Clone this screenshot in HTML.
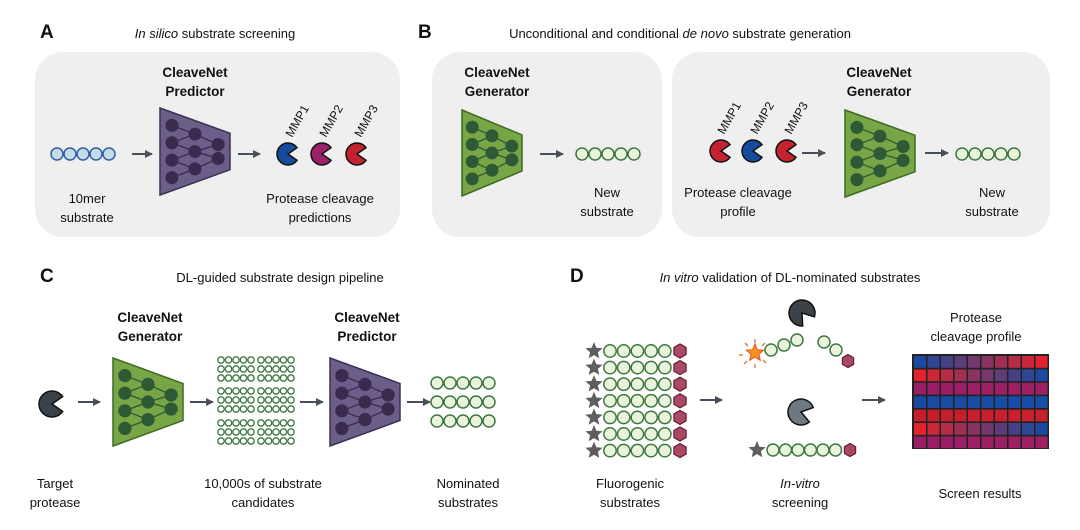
<!DOCTYPE html>
<html><head><meta charset="utf-8">
<style>
body{margin:0;background:#fff;}
svg{display:block;font-family:"Liberation Sans",Arial,sans-serif;}
</style></head>
<body>
<svg id="s" width="1080" height="530" viewBox="0 0 1080 530" xmlns="http://www.w3.org/2000/svg">
<defs>
<marker id="ar" markerWidth="8" markerHeight="8" refX="7" refY="4" orient="auto" markerUnits="userSpaceOnUse"><path d="M0,0 L8,4 L0,8 Z" fill="#4a5058"/></marker>
</defs>
<rect x="35" y="52" width="365" height="185" rx="28" fill="#efefef"/>
<rect x="432" y="52" width="230" height="185" rx="28" fill="#efefef"/>
<rect x="672" y="52" width="378" height="185" rx="28" fill="#efefef"/>
<g font-size="13" fill="#111" text-anchor="middle">
<text x="40" y="38" font-size="19" font-weight="bold" text-anchor="start">A</text>
<text x="215" y="38"><tspan font-style="italic">In silico</tspan> substrate screening</text>
<text x="418" y="38" font-size="19" font-weight="bold" text-anchor="start">B</text>
<text x="680" y="38">Unconditional and conditional <tspan font-style="italic">de novo</tspan> substrate generation</text>
<text x="40" y="282" font-size="19" font-weight="bold" text-anchor="start">C</text>
<text x="280" y="282">DL-guided substrate design pipeline</text>
<text x="570" y="282" font-size="19" font-weight="bold" text-anchor="start">D</text>
<text x="790" y="282"><tspan font-style="italic">In vitro</tspan> validation of DL-nominated substrates</text>

<g font-weight="bold" font-size="13.5">
<text x="195" y="77">CleaveNet</text><text x="195" y="96">Predictor</text>
<text x="497" y="77">CleaveNet</text><text x="497" y="96">Generator</text>
<text x="879" y="77">CleaveNet</text><text x="879" y="96">Generator</text>
<text x="150" y="322">CleaveNet</text><text x="150" y="341">Generator</text>
<text x="367" y="322">CleaveNet</text><text x="367" y="341">Predictor</text>
</g>
<text x="87" y="203">10mer</text><text x="87" y="222">substrate</text>
<text x="320" y="203">Protease cleavage</text><text x="320" y="222">predictions</text>
<text x="607" y="197">New</text><text x="607" y="216">substrate</text>
<text x="738" y="197">Protease cleavage</text><text x="738" y="216">profile</text>
<text x="992" y="197">New</text><text x="992" y="216">substrate</text>
<text x="55" y="488">Target</text><text x="55" y="507">protease</text>
<text x="263" y="488">10,000s of substrate</text><text x="263" y="507">candidates</text>
<text x="468" y="488">Nominated</text><text x="468" y="507">substrates</text>
<text x="630" y="488">Fluorogenic</text><text x="630" y="507">substrates</text>
<text x="800" y="488" font-style="italic">In-vitro</text><text x="800" y="507">screening</text>
<text x="976" y="322">Protease</text><text x="976" y="341">cleavage profile</text>
<text x="980" y="498">Screen results</text>
</g>
<g id="dyn"></g>
</svg>
<script>
const g=document.getElementById('dyn');const NS='http://www.w3.org/2000/svg';
function el(t,a,txt){const e=document.createElementNS(NS,t);for(const k in a)e.setAttribute(k,a[k]);if(txt)e.textContent=txt;g.appendChild(e);return e;}
function arrow(x1,y,x2){el('line',{x1:x1,y1:y,x2:x2,y2:y,stroke:'#4a5058','stroke-width':2,'marker-end':'url(#ar)'});}
function net(x,y,w,h,fill,stroke,node){
  const rt=y+h*0.29, rb=y+h*0.71;
  el('polygon',{points:`${x},${y} ${x+w},${rt} ${x+w},${rb} ${x},${y+h}`,fill:fill,stroke:stroke,'stroke-width':1.5});
  const c1=[0.2,0.4,0.6,0.8].map(f=>[x+w*0.17,y+h*f]);
  const c2=[0.3,0.5,0.7].map(f=>[x+w*0.5,y+h*f]);
  const c3=[0.42,0.58].map(f=>[x+w*0.83,y+h*f]);
  const L=(a,b)=>el('line',{x1:a[0],y1:a[1],x2:b[0],y2:b[1],stroke:node,'stroke-width':1.3});
  [[0,0],[1,0],[1,1],[2,1],[2,2],[3,2]].forEach(p=>L(c1[p[0]],c2[p[1]]));
  [[0,0],[1,0],[1,1],[2,1]].forEach(p=>L(c2[p[0]],c3[p[1]]));
  [...c1,...c2,...c3].forEach(c=>el('circle',{cx:c[0],cy:c[1],r:h*0.075,fill:node}));
}
function pac(cx,cy,r,fill,rot){rot=rot||0;const a=35*Math.PI/180;
  const x1=cx+r*Math.cos(a),y1=cy-r*Math.sin(a),x2=cx+r*Math.cos(a),y2=cy+r*Math.sin(a);
  el('path',{d:`M${cx},${cy} L${x1},${y1} A${r},${r} 0 1 0 ${x2},${y2} Z`,fill:fill,stroke:'#111','stroke-width':1.5,transform:`rotate(${rot} ${cx} ${cy})`});}
function beads(x,y,n,r,step,fill,stroke,sw){for(let i=0;i<n;i++)el('circle',{cx:x+i*step,cy:y,r:r,fill:fill,stroke:stroke,'stroke-width':sw||1.5});}
function star(cx,cy,R,fill,stroke){let p=[];for(let i=0;i<10;i++){const rr=i%2?R*0.45:R;const a=-Math.PI/2+i*Math.PI/5;p.push((cx+rr*Math.cos(a)).toFixed(1)+','+(cy+rr*Math.sin(a)).toFixed(1));}
  el('polygon',{points:p.join(' '),fill:fill,stroke:stroke||'none','stroke-width':1});}
function hex(cx,cy,r){let p=[];for(let i=0;i<6;i++){const a=Math.PI/6+i*Math.PI/3;p.push((cx+r*Math.cos(a)).toFixed(1)+','+(cy+r*Math.sin(a)).toFixed(1));}
  el('polygon',{points:p.join(' '),fill:'#a84a62',stroke:'#6a1838','stroke-width':1.2});}
function mmp(x,y,t){el('text',{x:x,y:y,'font-size':12,fill:'#111',transform:`rotate(-60 ${x} ${y})`},t);}
const PF='#6b5e88',PS='#3b3056',PN='#3a2b4e',GF='#78a545',GS='#3e6b22',GN='#2d5a34';
const sf='#eaf4dc',ss='#3d7840';
// A
beads(57,154,5,6,13,'#c6dbe5','#2d5fa8');
arrow(132,154,152);
net(160,108,70,87,PF,PS,PN);
arrow(238,154,260);
pac(288,154,11,'#184a9c');pac(322,154,11,'#9a2268');pac(357,154,11,'#c3222e');
mmp(292,138,'MMP1');mmp(326,138,'MMP2');mmp(361,138,'MMP3');
// B1
net(462,110,60,86,GF,GS,GN);
arrow(540,154,563);
beads(582,154,5,6,13,sf,ss);
// B2
pac(721,151,11,'#c3222e');pac(753,151,11,'#184a9c');pac(787,151,11,'#c3222e');
mmp(724,135,'MMP1');mmp(757,135,'MMP2');mmp(791,135,'MMP3');
arrow(802,153,825);
net(845,110,70,87,GF,GS,GN);
arrow(925,153,948);
beads(962,154,5,6,13,sf,ss);
// C
pac(52,404,13,'#3b4248');
arrow(78,402,100);
net(113,358,70,88,GF,GS,GN);
arrow(190,402,213);
[[360,369,378],[391,400,409],[423,432,441]].forEach(gr=>gr.forEach(y=>{beads(221,y,5,3.2,7.5,'#fff',ss,1.3);beads(261,y,5,3.2,7.5,'#fff',ss,1.3);}));
arrow(300,402,323);
net(330,358,70,88,PF,PS,PN);
arrow(407,402,430);
[383,402,421].forEach(y=>beads(437,y,5,6,13,sf,ss));
// D
for(let i=0;i<7;i++){const y=351+i*16.6;star(594,y,9,'#5e5e5e');beads(610,y,5,6.2,13.7,sf,ss);hex(680,y,7);}
arrow(700,400,722);
pac(802,313,13,'#3b4248',52);
[[0,-14,0,-10],[10,-10,7,-7],[-10,-10,-7,-7],[-16,2,-12,2],[-11,11,-8,8],[0,15,0,11],[11,10,8,7]].forEach(l=>el('line',{x1:755+l[0],y1:353+l[1],x2:755+l[2],y2:353+l[3],stroke:'#f06a2a','stroke-width':1.3}));
star(755,353,9,'#f7941d','#e8501c');
[[771,350],[784,345],[797,340],[824,342],[836,350]].forEach(c=>el('circle',{cx:c[0],cy:c[1],r:6,fill:sf,stroke:ss,'stroke-width':1.5}));
hex(848,361,6.5);
pac(801,412,13,'#6e7880',15);
star(757,450,9,'#5e5e5e');beads(773,450,6,6,12.5,sf,ss);hex(850,450,6.5);
arrow(862,400,885);
el('rect',{x:912,y:354,width:137,height:95,fill:'#222'});
const B=[26,74,160],R=[226,34,44],M=[154,30,100],RD=[196,30,44];
function mix(a,b,t){return `rgb(${a.map((v,i)=>Math.round(v+(b[i]-v)*t)).join(',')})`;}
for(let r=0;r<7;r++)for(let c=0;c<10;c++){let col;const t=c/9;
 if(r==0)col=mix(B,R,t);else if(r==1||r==5)col=mix(R,B,t);else if(r==2||r==6)col=mix(M,[160,34,100],t*0.5);else if(r==3)col=mix(B,[22,78,168],t);else col=mix(RD,[200,32,46],t);
 el('rect',{x:914+c*13.5,y:356+r*13.4,width:12,height:11.8,fill:col});}
</script>
</body></html>
